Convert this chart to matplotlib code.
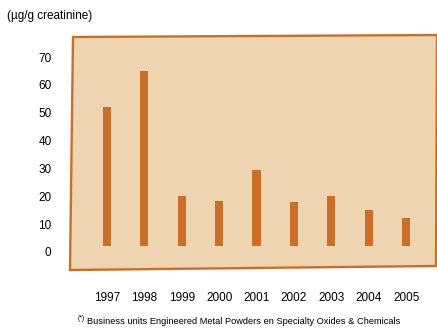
import matplotlib
matplotlib.use("Agg")
import matplotlib.pyplot as plt
import numpy as np
from matplotlib.patches import Polygon

# data
years = [1997, 1998, 1999, 2000, 2001, 2002, 2003, 2004, 2005]
values = [52, 65, 20, 18.3, 29.5, 18, 20, 15, 12.3]
baseline = 2.3   # bars start slightly above zero in the original
yticks = [0, 10, 20, 30, 40, 50, 60, 70]

orange = "#CB6E27"
panel = "#EED4B0"

plt.rcParams['font.family'] = ['Liberation Sans', 'DejaVu Sans']

W, H = 437, 330
fig = plt.figure(figsize=(W / 100, H / 100), dpi=100)

def fx(px):
    return px / W

def fy(py):
    return 1 - py / H

# hand-drawn looking panel behind the plot
corners = [(73, 37), (437, 35), (436, 266), (70, 270)]
poly = Polygon([(fx(x), fy(y)) for x, y in corners], closed=True,
               facecolor=panel, edgecolor=orange, linewidth=1.7,
               transform=fig.transFigure, zorder=-5)
fig.patches.append(poly)

# axes mapped onto the panel area
ax = fig.add_axes([fx(71), fy(268), fx(435) - fx(71), fy(36) - fy(268)])
ax.set_zorder(2)
ax.patch.set_alpha(0)
for s in ax.spines.values():
    s.set_visible(False)

px_per_unit = 195 / 70.0
zero_px = 252
ax.set_ylim((zero_px - 268) / px_per_unit, (zero_px - 36) / px_per_unit)
ax.set_xlim(1996.04, 2005.77)

heights = np.array(values) - baseline
ax.bar(years, heights, bottom=baseline, width=0.22, color=orange, zorder=2)

ax.set_yticks(yticks)
ax.set_yticklabels([str(t) for t in yticks], fontsize=8.5)
ax.tick_params(axis='y', length=0, pad=14)
ax.set_xticks(years)
ax.set_xticklabels([str(y) for y in years], fontsize=8.5)
ax.tick_params(axis='x', length=0, pad=17)

fig.text(fx(7), fy(16), "(µg/g creatinine)", fontsize=8.5, va='center', ha='left')
fig.text(fx(78), fy(319), "(*)", fontsize=5, va='center', ha='left')
fig.text(fx(87), fy(321), "Business units Engineered Metal Powders en Specialty Oxides & Chemicals",
         fontsize=6.7, va='center', ha='left')

fig.savefig("out.png", dpi=100)
